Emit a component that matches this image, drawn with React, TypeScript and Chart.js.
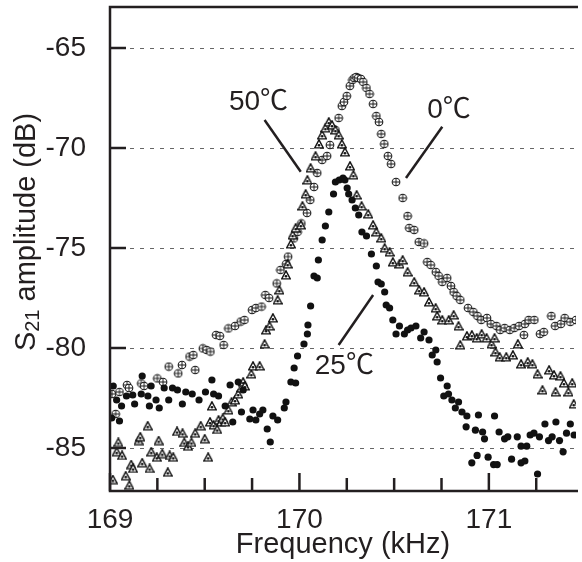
import React, { useEffect, useRef } from "react";
import { Chart, registerables } from "chart.js";

Chart.register(...registerables);

const FONT = "'Liberation Sans', Arial, Helvetica, sans-serif";
const LABEL_FONT = "'Liberation Sans', 'Noto Sans CJK JP', 'DejaVu Sans', sans-serif";
const INK = "#231f20";

// ---- axes ----
const X_MIN = 169;
const X_MAX = 171.46;
const Y_MIN = -87.15;
const Y_MAX = -62.95;
const X_TICK_LABELS = [169, 170, 171];
const X_MINOR_TICKS = [169.25, 169.5, 169.75, 170.25, 170.5, 170.75, 171.25];
const Y_TICK_LABELS = [-85, -80, -75, -70, -65];
const X_TITLE = "Frequency (kHz)";
const Y_TITLE_MAIN = "S";
const Y_TITLE_SUB = "21";
const Y_TITLE_REST = " amplitude (dB)";

// ---- series: 0 °C (crossed circles) ----
const freq0C = [169.01, 169.03, 169.05, 169.09, 169.1, 169.165, 169.18, 169.25, 169.28, 169.31, 169.36, 169.38, 169.42, 169.44, 169.45, 169.49, 169.51, 169.53, 169.56, 169.58, 169.6, 169.625, 169.66, 169.69, 169.71, 169.75, 169.77, 169.8, 169.82, 169.84, 169.88, 169.9, 169.93, 169.94, 169.97, 169.99, 170.01, 170.04, 170.057, 170.077, 170.094, 170.12, 170.146, 170.161, 170.19, 170.207, 170.224, 170.235, 170.25, 170.266, 170.28, 170.29, 170.3, 170.31, 170.325, 170.337, 170.354, 170.37, 170.389, 170.406, 170.42, 170.432, 170.448, 170.467, 170.484, 170.51, 170.545, 170.571, 170.58, 170.606, 170.63, 170.658, 170.675, 170.693, 170.72, 170.735, 170.754, 170.78, 170.8, 170.814, 170.83, 170.849, 170.89, 170.918, 170.94, 170.96, 170.99, 171.01, 171.04, 171.06, 171.083, 171.11, 171.135, 171.16, 171.185, 171.19, 171.21, 171.24, 171.27, 171.29, 171.33, 171.35, 171.38, 171.4, 171.43, 171.46];
const amp0C = [-82.3, -83.3, -82.2, -81.85, -82.0, -81.77, -81.9, -81.52, -81.7, -80.93, -81.27, -80.85, -80.43, -80.35, -81.1, -80.02, -80.1, -80.18, -79.35, -79.4, -79.85, -79.02, -78.9, -78.68, -78.6, -78.1, -78.0, -77.93, -77.35, -77.5, -76.77, -76.1, -75.8, -75.43, -74.52, -74.2, -73.77, -73.25, -72.6, -71.95, -71.25, -70.6, -70.4, -69.85, -69.1, -68.5, -67.9, -67.7, -67.4, -66.9, -66.6, -66.5, -66.45, -66.5, -66.55, -66.7, -67.0, -67.3, -67.8, -68.4, -68.7, -69.3, -69.8, -70.4, -70.8, -71.7, -72.5, -73.4, -74.0, -74.1, -74.7, -74.77, -75.7, -75.85, -76.2, -76.4, -76.7, -76.5, -76.9, -77.2, -77.4, -77.6, -78.0, -78.2, -78.4, -78.6, -78.5, -78.8, -78.9, -79.1, -79.0, -79.1, -79.0, -78.9, -79.35, -78.8, -78.6, -78.6, -79.3, -79.2, -78.4, -78.9, -78.8, -78.5, -78.7, -78.6];

// ---- series: 25 °C (filled circles) ----
const freq25C = [169.009, 169.017, 169.035, 169.05, 169.061, 169.087, 169.12, 169.13, 169.165, 169.17, 169.2, 169.208, 169.217, 169.243, 169.26, 169.286, 169.31, 169.33, 169.356, 169.382, 169.4, 169.434, 169.47, 169.504, 169.538, 169.547, 169.573, 169.608, 169.634, 169.648, 169.677, 169.694, 169.703, 169.738, 169.755, 169.77, 169.79, 169.807, 169.83, 169.846, 169.86, 169.885, 169.92, 169.929, 169.955, 169.972, 169.98, 169.99, 170.024, 170.042, 170.045, 170.059, 170.077, 170.094, 170.1, 170.12, 170.137, 170.155, 170.18, 170.19, 170.21, 170.23, 170.24, 170.252, 170.26, 170.278, 170.295, 170.313, 170.33, 170.354, 170.38, 170.406, 170.415, 170.432, 170.45, 170.458, 170.476, 170.493, 170.51, 170.528, 170.554, 170.571, 170.589, 170.615, 170.64, 170.658, 170.684, 170.701, 170.72, 170.727, 170.745, 170.762, 170.78, 170.787, 170.805, 170.823, 170.84, 170.858, 170.88, 170.884, 170.91, 170.929, 170.938, 170.945, 170.967, 170.977, 170.996, 171.025, 171.03, 171.044, 171.054, 171.083, 171.1, 171.12, 171.15, 171.17, 171.17, 171.19, 171.2, 171.218, 171.238, 171.257, 171.267, 171.296, 171.315, 171.334, 171.354, 171.373, 171.392, 171.41, 171.43, 171.45];
const amp25C = [-83.5, -81.9, -82.6, -83.65, -82.9, -82.4, -82.35, -82.8, -82.3, -81.4, -82.4, -82.9, -81.9, -82.6, -83.0, -82.0, -82.6, -82.0, -82.1, -82.8, -82.2, -82.3, -82.6, -82.2, -81.6, -82.3, -82.4, -82.9, -81.85, -83.7, -81.7, -83.2, -82.1, -83.55, -83.1, -83.6, -83.3, -83.1, -84.05, -84.7, -83.4, -83.6, -83.0, -82.7, -81.7, -81.0, -81.75, -80.4, -79.8, -79.3, -78.85, -77.9, -76.4, -76.5, -75.6, -74.6, -73.9, -73.2, -72.3, -71.7, -71.6, -71.5, -71.6, -72.0, -72.3, -72.6, -73.0, -73.35, -74.2, -74.4, -75.3, -75.9, -76.7, -76.8, -77.2, -77.85, -78.0, -78.6, -79.3, -78.9, -79.3, -79.1, -79.0, -78.9, -79.5, -79.2, -79.6, -80.35, -80.1, -80.7, -81.5, -82.4, -81.9, -82.3, -82.6, -83.0, -82.7, -83.2, -83.94, -83.4, -85.74, -84.11, -85.37, -83.35, -84.2, -84.54, -85.46, -85.83, -83.4, -85.83, -84.2, -84.54, -84.44, -85.56, -84.44, -84.91, -85.74, -85.65, -84.91, -84.35, -84.26, -86.3, -84.44, -83.8, -84.63, -84.44, -83.7, -84.63, -85.19, -84.26, -83.8, -84.35];

// ---- series: 50 °C (triangles) ----
const freq50C = [169.015, 169.035, 169.044, 169.064, 169.083, 169.102, 169.112, 169.122, 169.151, 169.16, 169.17, 169.199, 169.209, 169.218, 169.247, 169.257, 169.276, 169.305, 169.315, 169.334, 169.354, 169.383, 169.392, 169.412, 169.43, 169.45, 169.479, 169.5, 169.518, 169.528, 169.538, 169.547, 169.566, 169.573, 169.586, 169.595, 169.608, 169.625, 169.642, 169.66, 169.677, 169.694, 169.703, 169.712, 169.746, 169.755, 169.79, 169.816, 169.824, 169.842, 169.86, 169.885, 169.894, 169.929, 169.938, 169.955, 169.964, 169.98, 170.007, 170.016, 170.033, 170.042, 170.059, 170.085, 170.103, 170.12, 170.137, 170.155, 170.172, 170.19, 170.207, 170.224, 170.24, 170.267, 170.285, 170.302, 170.328, 170.363, 170.389, 170.406, 170.432, 170.45, 170.476, 170.493, 170.528, 170.545, 170.571, 170.606, 170.632, 170.658, 170.684, 170.719, 170.727, 170.754, 170.788, 170.814, 170.84, 170.849, 170.884, 170.91, 170.936, 170.962, 170.988, 171.014, 171.03, 171.035, 171.057, 171.092, 171.127, 171.153, 171.17, 171.205, 171.23, 171.257, 171.283, 171.318, 171.344, 171.352, 171.378, 171.396, 171.42, 171.44, 171.448];
const amp50C = [-86.58, -85.19, -84.72, -85.37, -86.39, -86.86, -85.83, -86.02, -84.63, -84.44, -85.74, -83.89, -86.02, -85.19, -85.46, -84.63, -85.28, -86.21, -85.37, -85.46, -84.17, -84.26, -84.72, -84.91, -84.72, -84.26, -83.89, -84.54, -85.46, -83.7, -82.9, -83.85, -84.07, -83.6, -83.7, -83.52, -83.7, -83.1, -82.7, -82.6, -82.3, -82.0, -81.7, -81.9, -81.3, -80.9, -80.9, -79.8, -79.1, -78.9, -78.5, -77.6, -77.1, -76.35, -75.8, -74.8, -74.35, -74.0, -73.85, -72.9, -72.3, -71.6, -71.0, -70.4, -69.8, -69.35, -69.0, -68.7, -68.85, -69.1, -69.35, -69.8, -70.2, -70.9, -71.35, -72.35, -72.9, -73.3, -73.85, -74.2, -74.5, -75.0, -75.2, -75.7, -75.8, -75.6, -76.2, -76.7, -77.1, -77.2, -77.7, -78.0, -78.4, -78.6, -78.6, -78.35, -78.9, -79.85, -79.4, -79.35, -79.5, -79.3, -79.5, -79.8, -79.5, -80.2, -80.45, -80.45, -80.35, -79.8, -80.8, -80.7, -80.8, -81.3, -82.1, -81.1, -81.35, -82.2, -81.4, -81.75, -82.2, -81.75, -82.8];

// ---- callout labels (text, text anchor, leader line ends, in data units) ----
const CALLOUT_TEXT = ["50℃", "0℃", "25℃"];
const CALLOUT_TEXT_X = [169.784, 170.79, 170.237];
const CALLOUT_TEXT_Y = [-67.7, -68.1, -80.9];
const CALLOUT_LINE_X1 = [169.816, 170.754, 170.389];
const CALLOUT_LINE_Y1 = [-68.6, -68.94, -77.35];
const CALLOUT_LINE_X2 = [170.007, 170.5625, 170.207];
const CALLOUT_LINE_Y2 = [-71.19, -71.5, -79.85];

function makeCrossCircle(): HTMLCanvasElement {
  const c = document.createElement("canvas");
  c.width = 10;
  c.height = 10;
  const g = c.getContext("2d")!;
  g.fillStyle = "#ffffff";
  g.strokeStyle = "#1a1a1a";
  g.lineWidth = 1.1;
  g.beginPath();
  g.arc(5, 5, 3.8, 0, Math.PI * 2);
  g.fill();
  g.stroke();
  g.lineWidth = 1;
  g.beginPath();
  g.moveTo(5, 1.2);
  g.lineTo(5, 8.8);
  g.moveTo(1.2, 5);
  g.lineTo(8.8, 5);
  g.stroke();
  return c;
}

function makeTriangle(): HTMLCanvasElement {
  const c = document.createElement("canvas");
  c.width = 10;
  c.height = 10;
  const g = c.getContext("2d")!;
  g.fillStyle = "#ffffff";
  g.strokeStyle = "#111";
  g.lineWidth = 1.4;
  g.beginPath();
  g.moveTo(5, 0.8);
  g.lineTo(9.3, 8.9);
  g.lineTo(0.7, 8.9);
  g.closePath();
  g.fill();
  g.stroke();
  g.fillStyle = "#111";
  g.beginPath();
  g.arc(5, 6.2, 1.3, 0, Math.PI * 2);
  g.fill();
  return c;
}

const framePlugin = {
  id: "frame",
  beforeDatasetsDraw(chart: any) {
    const { ctx, chartArea: a, scales } = chart;
    const y = scales.y;
    ctx.save();
    ctx.strokeStyle = "#666";
    ctx.lineWidth = 1;
    ctx.setLineDash([4, 6]);
    for (const v of Y_TICK_LABELS) {
      const py = Math.round(y.getPixelForValue(v)) + 0.5;
      ctx.beginPath();
      ctx.moveTo(a.left + 20, py);
      ctx.lineTo(a.right, py);
      ctx.stroke();
    }
    ctx.restore();
  },
  afterDatasetsDraw(chart: any) {
    const { ctx, chartArea: a, scales } = chart;
    const x = scales.x;
    const y = scales.y;
    ctx.save();
    ctx.strokeStyle = INK;
    ctx.lineWidth = 2.5;
    ctx.lineCap = "butt";
    // frame: left, bottom, top
    ctx.beginPath();
    ctx.moveTo(a.right + 2, a.top);
    ctx.lineTo(a.left, a.top);
    ctx.lineTo(a.left, a.bottom);
    ctx.lineTo(a.right + 2, a.bottom);
    ctx.stroke();
    // y ticks (inward)
    for (const v of Y_TICK_LABELS) {
      const py = y.getPixelForValue(v);
      ctx.beginPath();
      ctx.moveTo(a.left, py);
      ctx.lineTo(a.left + 16, py);
      ctx.stroke();
    }
    // x ticks (inward)
    for (const v of X_TICK_LABELS) {
      const px = x.getPixelForValue(v);
      ctx.beginPath();
      ctx.moveTo(px, a.bottom);
      ctx.lineTo(px, a.bottom - 18);
      ctx.stroke();
    }
    for (const v of X_MINOR_TICKS) {
      const px = x.getPixelForValue(v);
      ctx.beginPath();
      ctx.moveTo(px, a.bottom);
      ctx.lineTo(px, a.bottom - 13);
      ctx.stroke();
    }
    // callouts
    ctx.fillStyle = INK;
    ctx.font = `28px ${LABEL_FONT}`;
    ctx.textAlign = "center";
    ctx.textBaseline = "middle";
    for (let i = 0; i < CALLOUT_TEXT.length; i++) {
      ctx.fillText(CALLOUT_TEXT[i], x.getPixelForValue(CALLOUT_TEXT_X[i]), y.getPixelForValue(CALLOUT_TEXT_Y[i]));
      ctx.beginPath();
      ctx.moveTo(x.getPixelForValue(CALLOUT_LINE_X1[i]), y.getPixelForValue(CALLOUT_LINE_Y1[i]));
      ctx.lineTo(x.getPixelForValue(CALLOUT_LINE_X2[i]), y.getPixelForValue(CALLOUT_LINE_Y2[i]));
      ctx.stroke();
    }
    // x title
    ctx.font = `29px ${FONT}`;
    ctx.textBaseline = "alphabetic";
    ctx.fillText(X_TITLE, (a.left + a.right) / 2, 553);
    // y title with subscript
    ctx.translate(27, 232);
    ctx.rotate(-Math.PI / 2);
    ctx.textAlign = "left";
    ctx.textBaseline = "middle";
    const big = `29px ${FONT}`;
    const small = `20px ${FONT}`;
    ctx.font = big;
    const wS = ctx.measureText(Y_TITLE_MAIN).width;
    const wR = ctx.measureText(Y_TITLE_REST).width;
    ctx.font = small;
    const wSub = ctx.measureText(Y_TITLE_SUB).width;
    const x0 = -(wS + wSub + wR) / 2;
    ctx.font = big;
    ctx.fillText(Y_TITLE_MAIN, x0, 0);
    ctx.font = small;
    ctx.fillText(Y_TITLE_SUB, x0 + wS, 6);
    ctx.font = big;
    ctx.fillText(Y_TITLE_REST, x0 + wS + wSub, 0);
    ctx.restore();
  },
};

const toPoints = (xs: number[], ys: number[]) => xs.map((v, i) => ({ x: v, y: ys[i] }));

export default function App() {
  const ref = useRef<HTMLCanvasElement>(null);
  useEffect(() => {
    document.body.style.margin = "0";
    const canvas = ref.current!;
    const cross = makeCrossCircle();
    const tri = makeTriangle();
    const chart = new Chart(canvas, {
      type: "scatter",
      data: {
        datasets: [
          {
            label: "25℃",
            data: toPoints(freq25C, amp25C),
            pointStyle: "circle",
            pointRadius: 3.6,
            pointBackgroundColor: "#111",
            pointBorderWidth: 0,
          },
          {
            label: "50℃",
            data: toPoints(freq50C, amp50C),
            pointStyle: tri as any,
            pointRadius: 5,
          },
          {
            label: "0℃",
            data: toPoints(freq0C, amp0C),
            pointStyle: cross as any,
            pointRadius: 5,
          },
        ],
      },
      options: {
        animation: false,
        responsive: false,
        maintainAspectRatio: false,
        events: [],
        layout: { padding: { top: 7, left: 0, right: 0, bottom: 0 } },
        plugins: { legend: { display: false }, tooltip: { enabled: false } },
        scales: {
          x: {
            type: "linear",
            min: X_MIN,
            max: X_MAX,
            grid: { display: false },
            border: { display: false },
            ticks: {
              stepSize: 1,
              includeBounds: false,
              padding: 4,
              color: INK,
              font: { family: FONT, size: 28 },
              callback: (v: any) => (X_TICK_LABELS.includes(Number(v)) ? String(v) : ""),
            },
            afterFit: (s: any) => {
              s.height = 71;
              s.paddingLeft = 0;
              s.paddingRight = 0;
            },
          },
          y: {
            type: "linear",
            min: Y_MIN,
            max: Y_MAX,
            grid: { display: false },
            border: { display: false },
            ticks: {
              stepSize: 5,
              includeBounds: false,
              padding: 16,
              color: INK,
              font: { family: FONT, size: 28 },
              callback: (v: any) => (Y_TICK_LABELS.includes(Number(v)) ? String(v) : ""),
            },
            afterFit: (s: any) => {
              s.width = 110;
              s.paddingTop = 0;
              s.paddingBottom = 0;
            },
          },
        },
      },
      plugins: [framePlugin],
    });
    return () => chart.destroy();
  }, []);
  return (
    <div style={{ width: 582, height: 562, overflow: "hidden" }}>
      <canvas ref={ref} width={582} height={562} style={{ display: "block" }} />
    </div>
  );
}
